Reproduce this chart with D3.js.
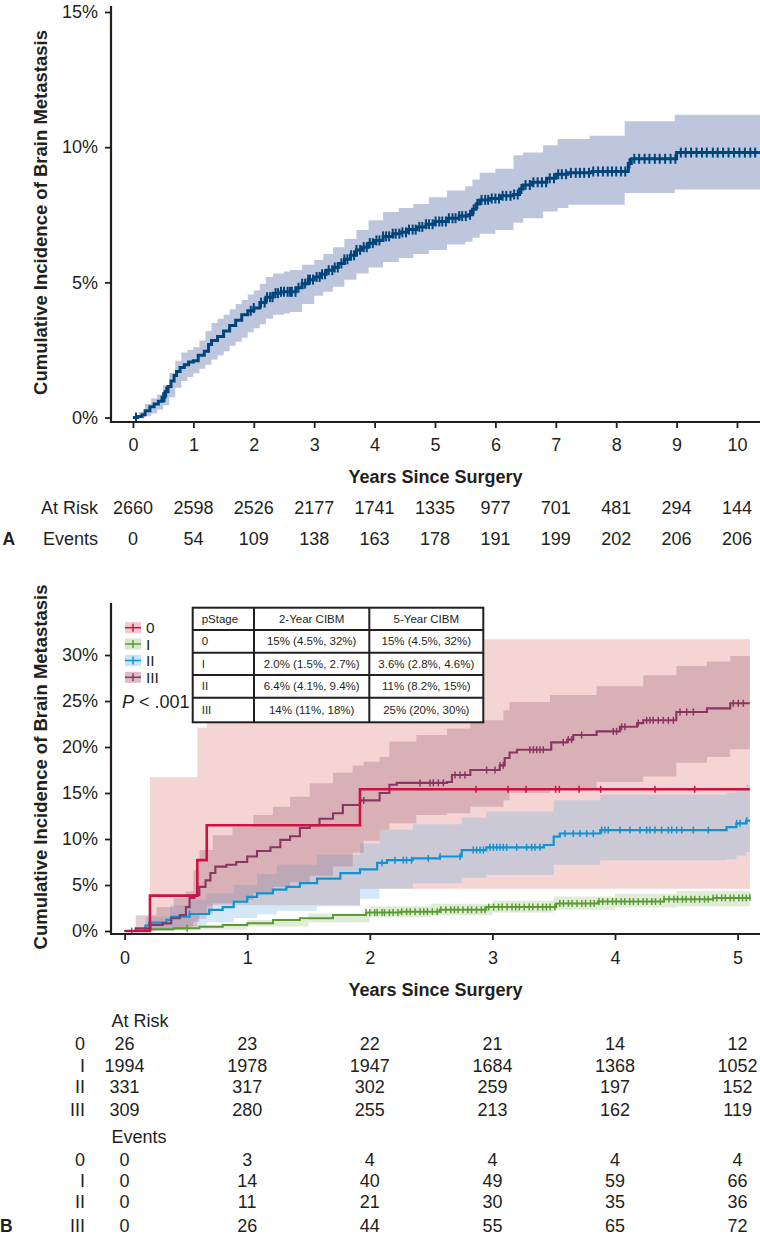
<!DOCTYPE html>
<html><head><meta charset="utf-8">
<script src="https://cdn.jsdelivr.net/npm/d3@7"></script>
<style>
body{margin:0;background:#fff}
text{font-family:"Liberation Sans",Arial,Helvetica,sans-serif;fill:#231f20}
</style>
</head><body>
<svg id="c" width="760" height="1243" xmlns="http://www.w3.org/2000/svg"></svg>
<script>
// ---------------- DATA: Panel A ----------------
const aTicksX = [0,1,2,3,4,5,6,7,8,9,10];
const aTicksY = [0,5,10,15];
const aTimes = [0,0.08,0.15,0.2,0.28,0.35,0.42,0.48,0.53,0.58,0.63,0.68,0.72,0.78,0.85,0.92,1.0,1.08,1.18,1.25,1.3,1.4,1.5,1.6,1.7,1.8,1.9,2.0,2.1,2.2,2.32,2.45,2.6,2.7,2.8,2.9,3.0,3.1,3.2,3.31,3.4,3.5,3.6,3.7,3.8,3.9,4.0,4.14,4.3,4.42,4.55,4.7,4.85,5.0,5.2,5.4,5.55,5.62,5.68,5.74,5.9,6.1,6.3,6.4,6.46,6.6,6.85,7.0,7.2,7.6,8.1,8.2,8.25,8.95,9.0,10.38];
const aCum   = [0,0.04,0.1,0.25,0.4,0.5,0.6,0.75,0.95,1.15,1.35,1.55,1.7,1.85,1.95,2.05,2.1,2.3,2.45,2.7,2.85,3.0,3.2,3.4,3.6,3.8,3.95,4.05,4.25,4.45,4.6,4.65,4.65,4.8,4.95,5.1,5.2,5.3,5.45,5.55,5.7,5.85,6.0,6.2,6.3,6.45,6.55,6.7,6.8,6.85,6.95,7.05,7.15,7.25,7.37,7.45,7.5,7.7,7.9,8.05,8.1,8.2,8.25,8.45,8.6,8.7,8.85,9.0,9.05,9.1,9.1,9.4,9.57,9.57,9.8,9.8];
const aBandTimes = [0,0.1,0.2,0.3,0.4,0.5,0.6,0.7,0.8,0.9,1.0,1.1,1.2,1.3,1.4,1.5,1.6,1.7,1.8,1.9,2.0,2.1,2.2,2.32,2.5,2.6,2.8,3.0,3.15,3.31,3.5,3.7,3.9,4.14,4.4,4.64,4.9,5.2,5.5,5.62,5.74,6.0,6.3,6.46,6.79,7.03,7.21,7.56,8.14,8.97,10.38];
const aLower = [0,0,0.05,0.15,0.3,0.45,0.75,1.1,1.35,1.5,1.64,1.8,1.95,2.15,2.3,2.45,2.65,2.8,2.95,3.15,3.3,3.45,3.65,3.8,3.85,3.9,4.2,4.5,4.65,4.84,5.1,5.33,5.55,5.75,5.9,6.05,6.2,6.4,6.5,6.65,6.8,6.94,7.2,7.37,7.62,7.75,7.87,7.87,8.3,8.43,8.43];
const aUpper = [0,0.2,0.5,0.7,0.85,1.2,1.65,2.1,2.4,2.5,2.6,2.85,3.2,3.5,3.65,3.8,4.0,4.2,4.35,4.55,4.7,4.95,5.2,5.33,5.4,5.46,5.65,5.83,6.05,6.3,6.6,6.94,7.3,7.6,7.75,7.9,8.15,8.4,8.55,8.8,9.05,9.2,9.7,9.8,10.07,10.3,10.3,10.42,10.96,11.2,11.2];
const aCensor = [0.05,0.5,0.52,0.55,1.95,2.0,2.12,2.18,2.22,2.27,2.31,2.36,2.4,2.45,2.5,2.56,2.6,2.63,2.69,2.74,2.8,2.85,2.9,2.93,2.98,3.04,3.09,3.13,3.18,3.24,3.3,3.34,3.39,3.45,3.5,3.55,3.61,3.66,3.7,3.76,3.82,3.87,3.92,3.97,4.03,4.08,4.14,4.19,4.24,4.3,4.35,4.41,4.46,4.52,4.57,4.63,4.68,4.74,4.79,4.85,4.9,4.96,5.01,5.07,5.12,5.18,5.23,5.29,5.34,5.4,5.45,5.51,5.58,5.64,5.7,5.77,5.83,5.88,5.94,6.0,6.06,6.12,6.18,6.25,6.31,6.37,6.43,6.5,6.57,6.63,6.7,6.77,6.84,6.9,6.97,7.04,7.1,7.17,7.25,7.33,7.4,7.47,7.55,7.62,7.7,7.78,7.86,7.93,8.0,8.08,8.15,8.22,8.3,8.38,8.47,8.55,8.64,8.72,8.81,8.9,8.98,9.07,9.15,9.24,9.33,9.42,9.5,9.6,9.68,9.77,9.86,9.95,10.04,10.13,10.22,10.3];
const aAtRisk = [2660,2598,2526,2177,1741,1335,977,701,481,294,144];
const aEvents = [0,54,109,138,163,178,191,199,202,206,206];

// ---------------- DATA: Panel B ----------------
const bTicksX = [0,1,2,3,4,5];
const bTicksY = [0,5,10,15,20,25,30];
const stages = ["0","I","II","III"];

const s0Times = [0,0.207,0.593,0.67,1.92,5.1];
const s0Cum   = [0,3.85,7.7,11.5,15.4,15.4];
const s0BandTimes = [0,0.207,0.593,0.67,1.92,5.1];
const s0Lo = [0,0.25,1.3,2.8,4.6,4.6];
const s0Hi = [0,16.7,22.1,28,31.7,31.7];
const s0Censor = [2.866,3.127,3.274,3.516,3.546,3.707,3.883,4.326,4.65];

const s1Times = [0,0.1,0.21,0.4,0.61,0.8,1.0,1.21,1.43,1.7,1.97,2.25,2.57,2.95,3.52,3.86,4.4,4.8,5.1];
const s1Cum   = [0,0.05,0.18,0.3,0.45,0.65,0.83,1.2,1.38,1.74,2.0,2.1,2.3,2.6,3.0,3.2,3.45,3.6,3.66];
const s1BandTimes = [0,0.21,0.5,1.0,1.5,2.0,2.5,3.0,3.5,4.0,4.5,5.1];
const s1Lo = [0,0.05,0.15,0.5,0.95,1.5,1.7,2.0,2.3,2.55,2.7,2.85];
const s1Hi = [0,0.35,0.65,1.2,1.9,2.7,2.95,3.3,3.75,4.05,4.35,4.6];
const s1Censor = [0.51,1.97,2.0,2.04,2.06,2.1,2.12,2.16,2.19,2.23,2.26,2.3,2.33,2.37,2.41,2.44,2.47,2.51,2.55,2.58,2.62,2.66,2.69,2.72,2.76,2.8,2.83,2.87,2.91,2.94,2.97,3.01,3.05,3.08,3.12,3.16,3.19,3.22,3.26,3.3,3.33,3.37,3.41,3.44,3.47,3.51,3.55,3.58,3.62,3.65,3.69,3.73,3.76,3.8,3.83,3.87,3.9,3.94,3.98,4.01,4.05,4.08,4.12,4.15,4.19,4.23,4.26,4.3,4.33,4.37,4.4,4.44,4.48,4.51,4.55,4.58,4.62,4.65,4.69,4.73,4.76,4.8,4.83,4.87,4.9,4.94,4.97,5.01,5.04,5.07,5.1];

const s2Times = [0,0.17,0.2,0.34,0.38,0.53,0.69,0.8,0.89,1.0,1.08,1.21,1.32,1.43,1.57,1.76,1.92,2.06,2.14,2.35,2.57,2.75,2.95,3.42,3.5,3.55,3.88,4.91,4.99,5.07,5.1];
const s2Cum   = [0,0.6,0.9,1.2,1.55,1.85,2.3,2.6,3.2,3.7,4.1,4.5,4.8,5.2,5.7,6.3,6.7,7.4,7.7,7.9,8.1,8.8,9.1,9.35,10.25,10.6,10.97,11.3,11.7,12.0,12.0];
const s2BandTimes = [0,0.17,0.37,0.53,0.67,0.89,1.08,1.24,1.57,1.92,2.08,2.35,2.75,2.95,3.5,3.88,4.91,4.99,5.07,5.1];
const s2Lo = [0,0.05,0.3,0.6,0.95,1.4,1.8,2.2,2.7,3.5,4.6,5.2,5.8,6.1,7.2,7.7,7.8,8.2,8.6,8.6];
const s2Hi = [0,1.55,2.8,3.4,4.1,5.0,6.2,7.2,8.3,9.5,11.0,11.6,12.3,13.0,14.2,14.8,15.0,15.5,15.9,15.9];
const s2Censor = [0.058,0.53,2.1,2.205,2.273,2.3,2.341,2.477,2.573,2.736,2.844,2.871,2.899,2.926,2.98,3.008,3.035,3.062,3.089,3.116,3.198,3.279,3.32,3.347,3.388,3.592,3.66,3.714,3.769,3.823,3.891,3.918,3.945,4.041,4.122,4.204,4.258,4.285,4.326,4.38,4.435,4.462,4.503,4.544,4.639,4.761,4.992,5.02,5.074];

const s3Times = [0,0.09,0.21,0.31,0.38,0.45,0.5,0.53,0.57,0.61,0.66,0.70,0.74,0.83,0.91,1.0,1.08,1.19,1.27,1.35,1.43,1.51,1.59,1.70,1.78,1.92,2.08,2.16,2.22,2.63,2.67,2.82,3.06,3.10,3.14,3.2,3.48,3.61,3.66,3.85,4.04,4.18,4.23,4.50,4.75,4.94,5.1];
const s3Cum   = [0,0.29,0.65,0.83,1.38,1.74,2.6,3.6,3.9,4.8,5.5,6.3,7.0,7.2,7.5,8.1,8.7,9.1,9.9,10.3,11.2,11.5,12.2,12.8,13.7,14.2,15.0,15.9,16.1,16.2,16.96,17.5,18.0,18.8,19.4,19.7,20.5,20.8,21.3,21.7,22.2,22.6,22.9,23.8,24.2,24.75,24.75];
const s3BandTimes = [0,0.09,0.26,0.4,0.5,0.56,0.61,0.72,0.88,1.05,1.21,1.35,1.51,1.70,1.86,1.95,2.08,2.16,2.38,2.63,2.82,3.09,3.14,3.47,3.85,4.23,4.5,4.75,4.94,5.1];
const s3Lo = [0,0,0.05,0.1,0.5,1.0,1.9,3.0,3.4,4.1,4.8,5.3,6.0,7.0,8.5,9.8,11.0,11.7,12.6,12.8,13.5,14.2,15.0,15.5,16.2,16.8,18.3,18.9,19.75,19.75];
const s3Hi = [0,1.7,2.6,3.6,4.3,6.6,8.8,10.4,11.3,12.6,13.5,14.6,16.05,17.2,18.0,18.4,18.9,20.6,21.3,22.0,22.9,24.0,24.9,25.65,26.6,27.8,28.8,29.3,29.9,29.9];
const s3Censor = [1.95,2.409,2.491,2.518,2.559,2.6,2.695,2.736,2.776,2.953,3.021,3.062,3.089,3.306,3.334,3.361,3.388,3.415,3.578,3.619,3.646,3.728,3.986,4.013,4.054,4.081,4.19,4.258,4.285,4.312,4.353,4.394,4.435,4.476,4.53,4.585,4.639,4.965,5.006,5.047];

const tableHeader = ["pStage","2-Year CIBM","5-Year CIBM"];
const tableRows = [
  ["0","15% (4.5%, 32%)","15% (4.5%, 32%)"],
  ["I","2.0% (1.5%, 2.7%)","3.6% (2.8%, 4.6%)"],
  ["II","6.4% (4.1%, 9.4%)","11% (8.2%, 15%)"],
  ["III","14% (11%, 18%)","25% (20%, 30%)"]
];
const bAtRisk = {"0":[26,23,22,21,14,12],"I":[1994,1978,1947,1684,1368,1052],"II":[331,317,302,259,197,152],"III":[309,280,255,213,162,119]};
const bEvents = {"0":[0,3,4,4,4,4],"I":[0,14,40,49,59,66],"II":[0,11,21,30,35,36],"III":[0,26,44,55,65,72]};

// ---------------- DRAW ----------------
const svg = d3.select("#c");
const INK = "#231f20";
const FONT = '"Liberation Sans",Arial,Helvetica,sans-serif';

function zip(ts, vs){ return ts.map((t,i)=>({t, v:vs[i]})); }
function zipBand(ts, lo, hi){ return ts.map((t,i)=>({t, lo:lo[i], hi:hi[i]})); }
function stepAt(ts, vs, t){ const i = d3.bisectRight(ts, t) - 1; return vs[Math.max(0, i)]; }

function styleAxis(g, fs){
  g.select(".domain").remove();
  g.selectAll(".tick line").attr("stroke", INK).attr("stroke-width", 1.8);
  g.selectAll(".tick text").attr("fill", INK).style("font-size", fs+"px").style("font-family", FONT);
}

// ===== Panel A =====
const xA = d3.scaleLinear().domain([0,10]).range([133,737]);
const yA = d3.scaleLinear().domain([0,15]).range([417.5,12]);
const colA = "#00457c", bandA = "#bdc6dd";

svg.append("path")
  .datum(zipBand(aBandTimes, aLower, aUpper))
  .attr("fill", bandA)
  .attr("d", d3.area().x(d=>xA(d.t)).y0(d=>yA(d.lo)).y1(d=>yA(d.hi)).curve(d3.curveStepAfter));

svg.append("path")
  .datum(zip(aTimes, aCum))
  .attr("fill","none").attr("stroke", colA).attr("stroke-width", 3)
  .attr("d", d3.line().x(d=>xA(d.t)).y(d=>yA(d.v)).curve(d3.curveStepAfter));

svg.append("g").selectAll("line").data(aCensor).join("line")
  .attr("x1", d=>xA(d)).attr("x2", d=>xA(d))
  .attr("y1", d=>yA(stepAt(aTimes,aCum,d))-5).attr("y2", d=>yA(stepAt(aTimes,aCum,d))+5)
  .attr("stroke", colA).attr("stroke-width", 2);

// axes A
const gAy = svg.append("g").attr("transform","translate(111,0)")
  .call(d3.axisLeft(yA).tickValues(aTicksY).tickFormat(d=>d+"%").tickSize(6).tickPadding(7));
styleAxis(gAy, 18);
const gAx = svg.append("g").attr("transform","translate(0,422)")
  .call(d3.axisBottom(xA).tickValues(aTicksX).tickFormat(d3.format("d")).tickSize(6).tickPadding(10));
styleAxis(gAx, 18);
svg.append("line").attr("x1",111).attr("x2",111).attr("y1",6).attr("y2",423).attr("stroke",INK).attr("stroke-width",2.2);
svg.append("line").attr("x1",110).attr("x2",760).attr("y1",422).attr("y2",422).attr("stroke",INK).attr("stroke-width",2.2);

svg.append("text").attr("transform","translate(40,212.5) rotate(-90)")
  .attr("text-anchor","middle").attr("dominant-baseline","central")
  .style("font-size","18.5px").style("font-weight","bold").text("Cumulative Incidence of Brain Metastasis");
svg.append("text").attr("x",435.5).attr("y",476.7).attr("text-anchor","middle").attr("dominant-baseline","central")
  .style("font-size","18px").style("font-weight","bold").text("Years Since Surgery");

// risk table A
svg.append("text").attr("x",98).attr("y",508).attr("text-anchor","end").attr("dominant-baseline","central").style("font-size","18px").text("At Risk");
svg.append("text").attr("x",98).attr("y",539).attr("text-anchor","end").attr("dominant-baseline","central").style("font-size","18px").text("Events");
svg.append("g").selectAll("text").data(aAtRisk).join("text")
  .attr("x",(d,i)=>xA(aTicksX[i])).attr("y",508).attr("text-anchor","middle").attr("dominant-baseline","central")
  .style("font-size","18px").text(d=>d);
svg.append("g").selectAll("text").data(aEvents).join("text")
  .attr("x",(d,i)=>xA(aTicksX[i])).attr("y",539).attr("text-anchor","middle").attr("dominant-baseline","central")
  .style("font-size","18px").text(d=>d);
svg.append("text").attr("x",2.5).attr("y",539).attr("dominant-baseline","central")
  .style("font-size","17.5px").style("font-weight","bold").text("A");

// ===== Panel B =====
const xB = d3.scaleLinear().domain([0,5]).range([124.6,737.6]);
const yB = d3.scaleLinear().domain([0,30]).range([931,655]);

const stageStyle = {
  "0":  {line:"#cc1241", fill:"rgba(211,87,79,0.25)",  sw:"#f3c9cc", w:2.6},
  "I":  {line:"#5b9b34", fill:"rgba(135,179,91,0.25)", sw:"#d9e7cc", w:2.0},
  "II": {line:"#0f94d2", fill:"rgba(83,167,223,0.25)", sw:"#c9e3f5", w:2.2},
  "III":{line:"#8a3563", fill:"rgba(154,93,111,0.3)",  sw:"#dcbccb", w:2.1}
};
const stageData = {
  "0":  {times:s0Times, cum:s0Cum, bt:s0BandTimes, lo:s0Lo, hi:s0Hi, cens:s0Censor},
  "I":  {times:s1Times, cum:s1Cum, bt:s1BandTimes, lo:s1Lo, hi:s1Hi, cens:s1Censor},
  "II": {times:s2Times, cum:s2Cum, bt:s2BandTimes, lo:s2Lo, hi:s2Hi, cens:s2Censor},
  "III":{times:s3Times, cum:s3Cum, bt:s3BandTimes, lo:s3Lo, hi:s3Hi, cens:s3Censor}
};

const areaB = d3.area().x(d=>xB(d.t)).y0(d=>yB(d.lo)).y1(d=>yB(d.hi)).curve(d3.curveStepAfter);
const lineB = d3.line().x(d=>xB(d.t)).y(d=>yB(d.v)).curve(d3.curveStepAfter);

stages.forEach(s=>{
  const D = stageData[s];
  svg.append("path").datum(zipBand(D.bt, D.lo, D.hi)).attr("fill", stageStyle[s].fill).attr("d", areaB);
});
["I","II","III","0"].forEach(s=>{
  const D = stageData[s], st = stageStyle[s];
  svg.append("path").datum(zip(D.times, D.cum)).attr("fill","none").attr("stroke", st.line)
    .attr("stroke-width", st.w).attr("d", lineB);
  svg.append("g").selectAll("line").data(D.cens).join("line")
    .attr("x1", d=>xB(d)).attr("x2", d=>xB(d))
    .attr("y1", d=>yB(stepAt(D.times,D.cum,d))-3.5).attr("y2", d=>yB(stepAt(D.times,D.cum,d))+3.5)
    .attr("stroke", st.line).attr("stroke-width", 1.5);
});

// axes B
const gBy = svg.append("g").attr("transform","translate(111,0)")
  .call(d3.axisLeft(yB).tickValues(bTicksY).tickFormat(d=>d+"%").tickSize(6).tickPadding(7));
styleAxis(gBy, 18);
const gBx = svg.append("g").attr("transform","translate(0,934)")
  .call(d3.axisBottom(xB).tickValues(bTicksX).tickFormat(d3.format("d")).tickSize(6).tickPadding(11));
styleAxis(gBx, 18);
svg.append("line").attr("x1",111).attr("x2",111).attr("y1",603).attr("y2",935).attr("stroke",INK).attr("stroke-width",2.2);
svg.append("line").attr("x1",110).attr("x2",760).attr("y1",934).attr("y2",934).attr("stroke",INK).attr("stroke-width",2.2);

svg.append("text").attr("transform","translate(40,767) rotate(-90)")
  .attr("text-anchor","middle").attr("dominant-baseline","central")
  .style("font-size","18.5px").style("font-weight","bold").text("Cumulative Incidence of Brain Metastasis");
svg.append("text").attr("x",435.5).attr("y",990).attr("text-anchor","middle").attr("dominant-baseline","central")
  .style("font-size","18px").style("font-weight","bold").text("Years Since Surgery");

// legend B
const legY = [627.7, 644, 660.5, 677.3];
stages.forEach((s,i)=>{
  const st = stageStyle[s], y = legY[i];
  svg.append("rect").attr("x",125).attr("y",y-5.5).attr("width",16).attr("height",11).attr("fill",st.sw);
  svg.append("line").attr("x1",125).attr("x2",141).attr("y1",y).attr("y2",y).attr("stroke",st.line).attr("stroke-width",1.5);
  svg.append("line").attr("x1",133).attr("x2",133).attr("y1",y-4).attr("y2",y+4).attr("stroke",st.line).attr("stroke-width",1.5);
  svg.append("text").attr("x",146).attr("y",y).attr("dominant-baseline","central").style("font-size","15.5px").text(s);
});
const pt = svg.append("text").attr("x",122).attr("y",701.7).attr("dominant-baseline","central").style("font-size","18px");
pt.append("tspan").style("font-style","italic").text("P");
pt.append("tspan").text(" < .001");

// summary table
const colX = [192.7, 254, 369.3, 483.3];
const rowY = [607.7, 630, 652.7, 675, 697.7, 722.3];
const tg = svg.append("g");
tg.append("rect").attr("x",colX[0]).attr("y",rowY[0]).attr("width",colX[3]-colX[0]).attr("height",rowY[5]-rowY[0])
  .attr("fill","#fff").attr("stroke",INK).attr("stroke-width",2);
colX.slice(1,3).forEach(x=>tg.append("line").attr("x1",x).attr("x2",x).attr("y1",rowY[0]).attr("y2",rowY[5]).attr("stroke",INK).attr("stroke-width",2));
rowY.slice(1,5).forEach(y=>tg.append("line").attr("x1",colX[0]).attr("x2",colX[3]).attr("y1",y).attr("y2",y).attr("stroke",INK).attr("stroke-width",2));
[tableHeader].concat(tableRows).forEach((row,r)=>{
  const cy = (rowY[r]+rowY[r+1])/2;
  row.forEach((cell,c)=>{
    const t = tg.append("text").attr("y",cy).attr("dominant-baseline","central").style("font-size","11.5px").text(cell);
    if(c===0) t.attr("x",colX[0]+9);
    else t.attr("x",(colX[c]+colX[c+1])/2).attr("text-anchor","middle");
  });
});

// risk table B
svg.append("text").attr("x",111.5).attr("y",1021).attr("dominant-baseline","central").style("font-size","18px").text("At Risk");
svg.append("text").attr("x",111.5).attr("y",1137).attr("dominant-baseline","central").style("font-size","18px").text("Events");
const riskRowY = [1044,1065.7,1087,1110];
const evRowY = [1160,1180.7,1202,1225.5];
stages.forEach((s,i)=>{
  [[bAtRisk, riskRowY[i]],[bEvents, evRowY[i]]].forEach(([tab,y])=>{
    svg.append("text").attr("x",85).attr("y",y).attr("text-anchor","end").attr("dominant-baseline","central").style("font-size","18px").text(s);
    svg.append("g").selectAll("text").data(tab[s]).join("text")
      .attr("x",(d,j)=>xB(bTicksX[j])).attr("y",y).attr("text-anchor","middle").attr("dominant-baseline","central")
      .style("font-size","18px").text(d=>d);
  });
});
svg.append("text").attr("x",0).attr("y",1225.5).attr("dominant-baseline","central")
  .style("font-size","17.5px").style("font-weight","bold").text("B");
</script>
</body></html>
